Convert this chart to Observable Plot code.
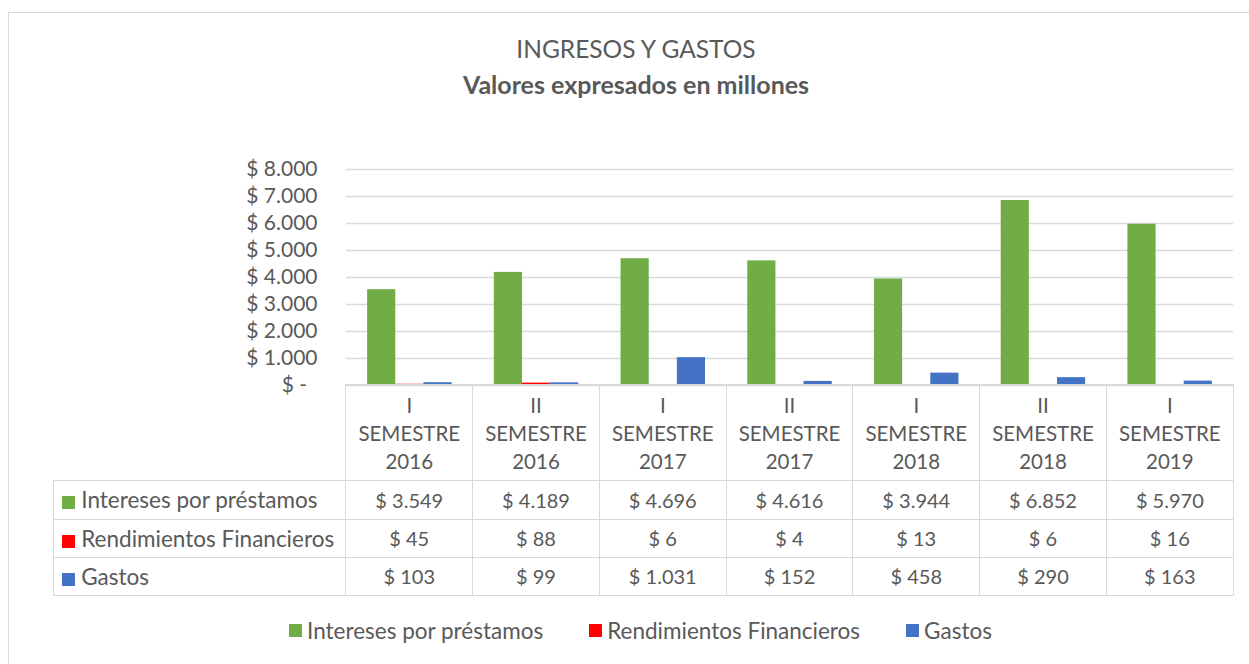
<!DOCTYPE html>
<html>
<head>
<meta charset="utf-8">
<script src="https://cdn.jsdelivr.net/npm/d3@7"></script>
<script src="https://cdn.jsdelivr.net/npm/@observablehq/plot@0.6"></script>
<style>
  html, body { margin: 0; padding: 0; background: #fff; overflow: hidden; }
  #wrap { position: relative; width: 1249px; height: 664px; font-family: Lato, "Open Sans", sans-serif; color: #595959; overflow: hidden; }
  #frame { position: absolute; left: 8px; top: 12px; width: 1300px; height: 700px; border: 1px solid #d9d9d9; box-sizing: border-box; }
  .title { position: absolute; left: 0; width: 1272px; text-align: center; white-space: nowrap; }
  #t1 { top: 34px; font-size: 24.5px; font-weight: 400; }
  #t2 { top: 69px; font-size: 25px; font-weight: 700; }
  #chart { position: absolute; left: 0; top: 150px; }
  #tbl { position: absolute; border-collapse: collapse; table-layout: fixed; font-size: 20px; color: #595959; }
  #tbl td { border: 1.5px solid #d9d9d9; text-align: center; padding: 0; white-space: nowrap; overflow: hidden; }
  #tbl td.blank { border: none; }
  #tbl td.lab { text-align: left; padding-left: 8px; font-size: 22.5px; }
  #tbl .hdr { line-height: 28px; font-size: 20.5px; }
  .sw { display: inline-block; width: 13px; height: 13px; margin-right: 6px; vertical-align: -1px; }
  #legend { position: absolute; top: 617px; left: 289px; display: flex; gap: 46px; font-size: 22.5px; white-space: nowrap; }
  #legend .it { display: flex; align-items: center; }
  #legend .sw { margin-right: 5px; vertical-align: 0; }
</style>
</head>
<body>
<div id="wrap">
  <div id="frame"></div>
  <div class="title" id="t1">INGRESOS Y GASTOS</div>
  <div class="title" id="t2">Valores expresados en millones</div>
  <div id="chart"></div>
  <table id="tbl"></table>
  <div id="legend"></div>
</div>
<script>
// ---- Data ----
const categories = ["I SEMESTRE 2016", "II SEMESTRE 2016", "I SEMESTRE 2017", "II SEMESTRE 2017", "I SEMESTRE 2018", "II SEMESTRE 2018", "I SEMESTRE 2019"];
const seriesNames = ["Intereses por préstamos", "Rendimientos Financieros", "Gastos"];
const intereses = [3549, 4189, 4696, 4616, 3944, 6852, 5970];
const rendimientos = [45, 88, 6, 4, 13, 6, 16];
const gastos = [103, 99, 1031, 152, 458, 290, 163];
const seriesColors = ["#70AD47", "#FF0000", "#4472C4"];
const yTicks = [0, 1000, 2000, 3000, 4000, 5000, 6000, 7000, 8000];

const seriesValues = [intereses, rendimientos, gastos];
const rows = [];
categories.forEach((c, i) => seriesNames.forEach((s, j) => rows.push({cat: c, series: s, value: seriesValues[j][i]})));

const loc = d3.formatLocale({decimal: ",", thousands: ".", grouping: [3], currency: ["$", ""]});
const num = loc.format(",");
const money = v => "$ " + num(v);
const fmtY = v => v === 0 ? "$ -\u2002" : money(v);

const plot = Plot.plot({
  width: 1249,
  height: 240,
  marginLeft: 346,
  marginRight: 16,
  marginTop: 19,
  marginBottom: 5,
  style: {fontFamily: "Lato, 'Open Sans', sans-serif", fontSize: "21px", color: "#595959", background: "transparent", overflow: "visible"},
  fx: {domain: categories, padding: 0, round: false, axis: null},
  x: {domain: seriesNames, paddingInner: 0, paddingOuter: 0.75, round: false, axis: null},
  y: {domain: [0, 8000], label: null},
  color: {domain: seriesNames, range: seriesColors},
  marks: [
    Plot.gridY(yTicks, {stroke: "#d9d9d9", strokeOpacity: 1, strokeWidth: 1.5}),
    Plot.barY(rows, {fx: "cat", x: "series", y: "value", fill: "series"}),
    Plot.axisY(yTicks, {tickSize: 0, tickPadding: 29, tickFormat: fmtY, fontSize: 21, label: null})
  ]
});
document.getElementById("chart").appendChild(plot);

// ---- Data table aligned with fx scale ----
const fx = plot.scale("fx");
const colW = fx.bandwidth;
const x0 = fx.apply(categories[0]);
const tableLeft = 54;
const labW = x0 - tableLeft;
const tbl = document.getElementById("tbl");
tbl.style.left = (tableLeft - 0.75) + "px";
tbl.style.top = (385 - 0.75) + "px";
tbl.style.width = (labW + colW * categories.length + 1.5) + "px";
let html = "<colgroup><col style='width:" + labW + "px'>" + categories.map(() => "<col style='width:" + colW + "px'>").join("") + "</colgroup>";
html += "<tr style='height:96px'><td class='blank'></td>" + categories.map(c => "<td><div class='hdr'>" + c.split(" ").join("<br>") + "</div></td>").join("") + "</tr>";
seriesNames.forEach((s, j) => {
  html += "<tr style='height:38.3px'><td class='lab'><span class='sw' style='background:" + seriesColors[j] + "'></span>" + s + "</td>" +
    seriesValues[j].map(v => "<td>" + money(v) + "</td>").join("") + "</tr>";
});
tbl.innerHTML = html;

// ---- Legend ----
document.getElementById("legend").innerHTML = seriesNames.map((s, j) =>
  "<div class='it'><span class='sw' style='background:" + seriesColors[j] + "'></span>" + s + "</div>").join("");
</script>
</body>
</html>
